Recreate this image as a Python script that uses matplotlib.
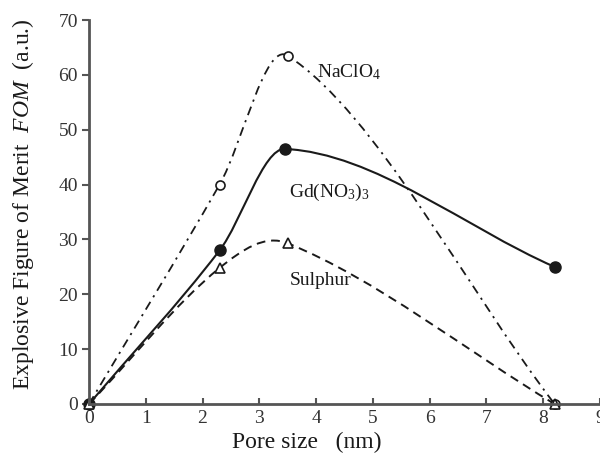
import matplotlib
matplotlib.use('agg')
import matplotlib.pyplot as plt
from matplotlib.path import Path
from matplotlib.patches import PathPatch

# pore size (nm) and figure of merit for each salt
pore_x = [0, 2.3, 3.5, 8.2]
naclo4 = [0, 40, 63.5, 0]
gd_x = [0, 2.3, 3.45, 8.2]
gd_no3 = [0, 28, 46.5, 25]
sulphur = [0, 24.8, 29.3, 0]

plt.rcParams['font.family'] = 'Liberation Serif'
plt.rcParams['mathtext.fontset'] = 'custom'
plt.rcParams['mathtext.rm'] = 'Liberation Serif'
plt.rcParams['mathtext.it'] = 'Liberation Serif:italic'

ink = '#1a1a1a'


def smooth_path(xs, ys):
    # cubic hermite in x: slope at each point from its neighbours,
    # control points at a third of each interval
    n = len(xs)
    slopes = []
    for i in range(n):
        a = max(i - 1, 0)
        b = min(i + 1, n - 1)
        slopes.append((ys[b] - ys[a]) / (xs[b] - xs[a]))
    verts = [(xs[0], ys[0])]
    codes = [Path.MOVETO]
    for i in range(n - 1):
        h = (xs[i + 1] - xs[i]) / 3
        verts += [(xs[i] + h, ys[i] + slopes[i] * h),
                  (xs[i + 1] - h, ys[i + 1] - slopes[i + 1] * h),
                  (xs[i + 1], ys[i + 1])]
        codes += [Path.CURVE4] * 3
    return Path(verts, codes)


fig = plt.figure(figsize=(6, 4.58), dpi=100)
ax = fig.add_axes([89 / 600, 54 / 458, 511 / 600, 384 / 458])

ax.add_patch(PathPatch(smooth_path(pore_x, naclo4), fill=False, ec=ink, lw=1.3,
                       linestyle=(0, (5, 3, 1.2, 3))))
ax.add_patch(PathPatch(smooth_path(gd_x, gd_no3), fill=False, ec=ink, lw=1.5))
ax.add_patch(PathPatch(smooth_path(pore_x, sulphur), fill=False, ec=ink, lw=1.4,
                       linestyle=(0, (4.5, 3))))

ax.plot(pore_x, naclo4, 'o', ms=6.5, mfc='white', mec=ink, mew=1.2, ls='none', clip_on=False)
ax.plot(gd_x, gd_no3, 'o', ms=8, mfc=ink, mec=ink, ls='none', clip_on=False)
ax.plot(pore_x, sulphur, '^', ms=7.5, mfc='white', mec=ink, mew=1.2, ls='none', clip_on=False)

ax.text(4.02, 60.5, 'NaClO$_4$', fontsize=14, va='center', color=ink)
ax.text(3.53, 38.6, 'Gd(NO$_3$)$_3$', fontsize=14, va='center', color=ink)
ax.text(3.53, 22.6, 'Sulphur', fontsize=14, va='center', color=ink)

ax.set_xlim(0, 9)
ax.set_ylim(0, 70)
ax.set_xticks(range(0, 10))
ax.set_yticks(range(0, 71, 10))

for s in ['top', 'right']:
    ax.spines[s].set_visible(False)
for s in ['left', 'bottom']:
    ax.spines[s].set_linewidth(2)
    ax.spines[s].set_color('#555555')

ax.tick_params(axis='y', direction='out', length=5, width=1.5, color='#555555',
               labelsize=14, pad=3, labelcolor='#333333')
ax.tick_params(axis='x', direction='in', length=4, width=1.5, color='#555555',
               labelsize=14, pad=4, labelcolor='#333333')

ax.text(-0.13, 0.52, 'Explosive Figure of Merit  $FOM$  (a.u.)', transform=ax.transAxes,
        rotation=90, ha='center', va='center', fontsize=17, color=ink)
ax.text(0.427, -0.10, 'Pore size   (nm)', transform=ax.transAxes,
        ha='center', va='center', fontsize=17, color=ink)

plt.savefig('out.png', dpi=100)
